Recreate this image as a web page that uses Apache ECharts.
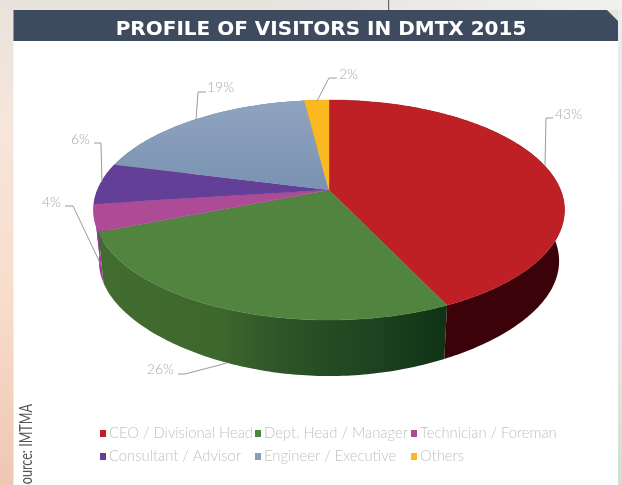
<!DOCTYPE html>
<html>
<head>
<meta charset="utf-8">
<style>html,body{margin:0;padding:0;background:#fff}#c{width:622px;height:485px}</style>
<script src="https://cdn.jsdelivr.net/npm/echarts@6/dist/echarts.min.js"></script>
</head>
<body>
<div id="c"></div>
<script>
const categories = ['CEO / Divisional Head','Dept. Head / Manager','Technician / Foreman','Consultant / Advisor','Engineer / Executive','Others'];
const values = [43,26,4,6,19,2];
const tickLabels = ['43%','26%','4%','6%','19%','2%'];
const colors = ['#be2025','#50843f','#ae4b97','#643f97','#879dba','#fbb91f'];

// projection of the flat disc into the tilted view
const CX = 329, CY = 190, RX = 231.6, RY = 106.4, K = -0.1818, SHRINK = 0.977, DEPTH = 51, DEPTH_NEAR = 5;
// leader lines: anchor / elbow / end, label position
const leaders = [
  {line:[[545,165],[546,118],[553,118]], text:[555,114], align:'left'},
  {line:[[178,374],[185,374],[227,363]], text:[174,369], align:'right'},
  {line:[[101,265],[73,206],[65,206]],   text:[61,202],  align:'right'},
  {line:[[102,182],[101,143],[94,143]],  text:[90,139],  align:'right'},
  {line:[[196,120],[198,92],[206,92]],   text:[207,87],  align:'left'},
  {line:[[317,101],[329,78],[337,78]],   text:[339,74],  align:'left'}
];
const L = (x0,y0,x1,y1,stops)=>new echarts.graphic.LinearGradient(x0,y0,x1,y1,stops.map(s=>({offset:s[0],color:s[1]})),true);
const wallFills = [
  '#3b0209',
  L(100,0,445,0,[[0,'#436c30'],[0.35,'#3d672d'],[0.55,'#2c5226'],[0.8,'#1d4320'],[1,'#103216']]),
  '#a3359c','#4f2f80','#5f7390','#b98a10'
];
const topFills = [
  null,null,null,null,
  L(0,100,0,190,[[0,'#8fa4c0'],[1,'#7a92b2']]),
  null
];

const total = values.reduce((a,b)=>a+b,0);
function pt(t){
  const x=Math.sin(t), y=-Math.cos(t), d=1+K*y;
  return [CX+RX*x/d, CY+RY*y/d, y];
}
function low(p){ return [CX+(p[0]-CX)*SHRINK, p[1]+DEPTH+DEPTH_NEAR*Math.pow(Math.max(0,p[2]),6)]; }

function arcPts(a0,a1){
  const out=[], n=Math.max(2,Math.ceil((a1-a0)/0.015));
  for(let i=0;i<=n;i++) out.push(pt(a0+(a1-a0)*i/n));
  return out;
}

function makeRender(idx){
  return function(params, api){
    const v = api.value(0);
    let before = 0;
    for(let i=0;i<idx;i++) before += values[i];
    const a0 = before/total*2*Math.PI, a1 = (before+v)/total*2*Math.PI;
    const arc = arcPts(a0,a1);
    const wall = arc.map(p=>[p[0],p[1]]).concat(arc.slice().reverse().map(low));
    const top = [[CX,CY]].concat(arc.map(p=>[p[0],p[1]]));
    const col = api.visual('color');
    const ld = leaders[idx];
    return {type:'group',children:[
      {type:'polygon',z2:10-idx,shape:{points:wall},style:{fill:wallFills[idx],stroke:null}},
      {type:'polygon',z2:20,shape:{points:top},style:{fill:topFills[idx]||col,stroke:topFills[idx]?null:col,lineWidth:0.4}},
      {type:'polyline',z2:30,shape:{points:ld.line},style:{fill:null,stroke:'#9a9a9a',lineWidth:1}},
      {type:'text',z2:30,style:{text:tickLabels[idx],x:ld.text[0],y:ld.text[1],align:ld.align,verticalAlign:'middle',
        font:'300 14px Lato, "Open Sans", sans-serif',fill:'#a9a9a9'}}
    ]};
  };
}

const chart = echarts.init(document.getElementById('c'),null,{renderer:'canvas'});
const legendFont = {color:'#c2c2c2',fontFamily:'Lato, "Open Sans", sans-serif',fontWeight:300,fontSize:14.8};
const legendCol = (left,names)=>({
  orient:'vertical',left:left,top:426,itemWidth:6,itemHeight:7,itemGap:8,padding:0,
  icon:'rect',data:names,textStyle:Object.assign({padding:[0,0,0,-2]},legendFont),selectedMode:false
});
chart.setOption({
  animation:false,
  color:colors,
  title:{text:'PROFILE OF VISITORS IN DMTX 2015',left:316,top:15,textAlign:'center',
    textStyle:{color:'#ffffff',fontSize:20,fontWeight:700,fontFamily:'"DejaVu Sans", sans-serif'}},
  legend:[
    legendCol(100,[categories[0],categories[3]]),
    legendCol(255,[categories[1],categories[4]]),
    legendCol(411,[categories[2],categories[5]])
  ],
  graphic:{elements:[
    {type:'rect',silent:true,z:-10,shape:{x:0,y:0,width:622,height:485},
      style:{fill:L(0,0,0,485,[[0,'#e9e3dc'],[0.25,'#f6e6dc'],[0.6,'#f9ddcc'],[1,'#eec7b3'] ])}},
    {type:'rect',silent:true,z:-10,shape:{x:0,y:0,width:622,height:10},
      style:{fill:L(0,0,622,0,[[0,'#e8e2da'],[0.4,'#e6e3dd'],[1,'#f0f1ee']])}},
    {type:'rect',silent:true,z:-10,shape:{x:618,y:10,width:4,height:475},
      style:{fill:L(0,10,0,485,[[0,'#e6eef2'],[0.7,'#e4e6e6'],[1,'#cfe0cc']])}},
    {type:'rect',silent:true,z:-9,shape:{x:13.5,y:41,width:604.5,height:444},style:{fill:'#ffffff'}},
    {type:'polygon',silent:true,z:-9,shape:{points:[[13.5,10],[607,10],[618,21],[618,41],[13.5,41]]},style:{fill:'#3e4a5d'}},
    {type:'rect',silent:true,z:-9,shape:{x:388,y:0,width:1.2,height:10},style:{fill:'#66696e'}},
    {type:'text',silent:true,z:5,x:26.5,y:404,rotation:Math.PI/2,scaleX:0.74,
      style:{text:'Source: IMTMA',align:'right',verticalAlign:'middle',fill:'#555555',
        font:'400 17px Lato, "Open Sans", sans-serif'}}
  ]},
  series: categories.map((name,i)=>({
    type:'custom',name:name,coordinateSystem:'none',clip:false,
    data:[[values[i]]],
    renderItem:makeRender(i)
  }))
});
</script>
</body>
</html>
